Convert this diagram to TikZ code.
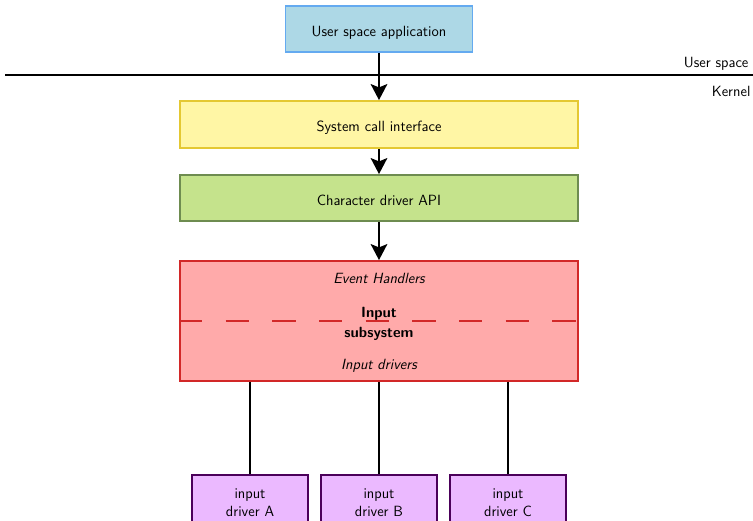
\documentclass[tikz,border=0pt]{standalone}
\usetikzlibrary{arrows.meta}
\definecolor{userfill}{RGB}{173,216,230}
\definecolor{userdraw}{RGB}{100,170,240}
\definecolor{sysfill}{RGB}{255,246,165}
\definecolor{sysdraw}{RGB}{228,200,50}
\definecolor{chrfill}{RGB}{197,227,140}
\definecolor{chrdraw}{RGB}{110,140,80}
\definecolor{inpfill}{RGB}{255,170,170}
\definecolor{inpdraw}{RGB}{210,40,40}
\definecolor{drvfill}{RGB}{235,185,255}
\definecolor{drvdraw}{RGB}{75,0,90}
\begin{document}
\begin{tikzpicture}[x=0.75pt,y=-0.75pt,
  every node/.style={font=\sffamily\fontsize{11.1pt}{13.5pt}\selectfont},
  box/.style={draw, line width=1.4pt, inner sep=0pt, align=center},
  onebox/.style={box, text height=11pt, text depth=0pt},
  conn/.style={line width=1.4pt},
  arr/.style={line width=1.4pt, -{Stealth[length=12pt,width=12.5pt,inset=2.5pt]}},
  side/.style={anchor=east, inner sep=1pt}]
\useasboundingbox (0,0) rectangle (753,521);
\node[onebox, fill=userfill, draw=userdraw, minimum width=140.25pt, minimum height=34.5pt] (user) at (379,29) {User space application};
\node[onebox, fill=sysfill, draw=sysdraw, minimum width=298.5pt, minimum height=35.25pt] (sys) at (379,124.5) {System call interface};
\node[onebox, fill=chrfill, draw=chrdraw, minimum width=298.5pt, minimum height=34.5pt] (chr) at (379,198) {Character driver API};
\node[box, fill=inpfill, draw=inpdraw, minimum width=298.5pt, minimum height=90pt] (inp) at (379,321) {};
\draw[inpdraw, line width=1.4pt, dash pattern=on 17.5pt off 17.5pt] (inp.west) -- (inp.east);
\node (evh) at (379,278) {\itshape Event Handlers};
\node[align=center] (ins) at (379,324) {\bfseries Input\\[1pt]\bfseries subsystem};
\node (ind) at (379,366) {\itshape Input drivers};
\node[box, fill=drvfill, draw=drvdraw, minimum width=87pt, minimum height=42pt] (da) at (250,503) {input\\[0pt]driver A};
\node[box, fill=drvfill, draw=drvdraw, minimum width=87pt, minimum height=42pt] (db) at (379,503) {input\\[0pt]driver B};
\node[box, fill=drvfill, draw=drvdraw, minimum width=87pt, minimum height=42pt] (dc) at (508,503) {input\\[0pt]driver C};
\coordinate (ll) at (5,75);
\coordinate (lr) at (753,75);
\draw[line width=1.4pt] (ll) -- (lr);
\node[side] (us) at (750,64) {User space};
\node[side] (kn) at (752,91) {Kernel};
\draw[arr] (user.south) -- (sys.north);
\draw[arr] (sys.south) -- (chr.north);
\draw[arr] (chr.south) -- (inp.north);
\draw[conn] (inp.south -| da.north) -- (da.north);
\draw[conn] (inp.south -| db.north) -- (db.north);
\draw[conn] (inp.south -| dc.north) -- (dc.north);
\end{tikzpicture}
\end{document}
